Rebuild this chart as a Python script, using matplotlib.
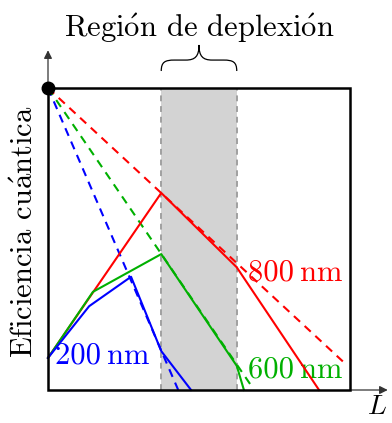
import matplotlib
matplotlib.use('Agg')
from matplotlib import pyplot as plt
from matplotlib.path import Path
from matplotlib.patches import PathPatch, Rectangle
import numpy as np

plt.rcParams['font.family'] = ['cmr10', 'DejaVu Serif']
plt.rcParams['mathtext.fontset'] = 'cm'
plt.rcParams['axes.formatter.use_mathtext'] = True

# depletion region (x range) and box size
depletion = (3.0, 5.0)
box = 8.0

# solid curves: quantum efficiency vs L
blue_x = [0.0, 1.09, 2.2, 3.0, 3.79]
blue_y = [0.85, 2.22, 3.0, 1.03, 0.0]
green_x = [0.0, 1.19, 3.0, 5.0, 5.19]
green_y = [0.85, 2.6, 3.6, 0.64, 0.0]
red_x = [0.0, 3.0, 5.0, 7.18]
red_y = [0.85, 5.22, 3.25, 0.0]

# dashed reference lines from the top-left corner
blue_dash_x = [0.0, 3.45]
blue_dash_y = [8.0, 0.0]
green_dash_x = [0.0, 5.38]
green_dash_y = [8.0, 0.12]
red_dash_x = [0.0, 7.85]
red_dash_y = [8.0, 0.72]

labels = ['200\u2009nm', '600\u2009nm', '800\u2009nm']
title = r'Regi$\acute{\mathrm{o}}$n de deplexi$\acute{\mathrm{o}}$n'
ylabel = r'Eficiencia cu$\acute{\mathrm{a}}$ntica'
c_blue, c_green, c_red = '#0000ff', '#00b000', '#ff0000'

fig = plt.figure(figsize=(3.92, 4.23), dpi=100)
ax = fig.add_axes([0, 0, 1, 1])
u = 37.75
ax.set_xlim(-48 / u, 344 / u)
ax.set_ylim(-33 / u, 390 / u)
ax.axis('off')

# shaded depletion region
ax.add_patch(Rectangle((depletion[0], 0), depletion[1] - depletion[0], box,
                       facecolor='#d3d3d3', edgecolor='none', zorder=1))
for xv in depletion:
    ax.plot([xv, xv], [0, box], color='#a0a0a0', lw=1.4,
            linestyle=(0, (3, 2.5)), zorder=2)

dash = (0, (4, 3))
ax.plot(blue_dash_x, blue_dash_y, color=c_blue, lw=1.5, linestyle=dash, zorder=3)
ax.plot(green_dash_x, green_dash_y, color=c_green, lw=1.5, linestyle=dash, zorder=3)
ax.plot(red_dash_x, red_dash_y, color=c_red, lw=1.5, linestyle=dash, zorder=3)

ax.plot(red_x, red_y, color=c_red, lw=1.5, zorder=4)
ax.plot(green_x, green_y, color=c_green, lw=1.5, zorder=4)
ax.plot(blue_x, blue_y, color=c_blue, lw=1.5, zorder=4)

# box
ax.add_patch(Rectangle((0, 0), box, box, facecolor='none', edgecolor='black',
                       lw=1.8, zorder=5))

# axes arrows
ax.annotate('', xy=(0, 9.0), xytext=(0, box),
            arrowprops=dict(arrowstyle='-|>', color='#333333', lw=0.9,
                            mutation_scale=12, shrinkA=0, shrinkB=0))
ax.annotate('', xy=(9.0, 0), xytext=(box, 0),
            arrowprops=dict(arrowstyle='-|>', color='#333333', lw=0.9,
                            mutation_scale=12, shrinkA=0, shrinkB=0))
ax.plot([0], [box], 'o', color='black', ms=9, zorder=6)

# brace over depletion region
x0, x1 = depletion
xm = (x0 + x1) / 2
yb, yh, yt = 8.45, 8.74, 9.14
verts = [(x0, yb), (x0, yh - 0.05), (x0 + 0.1, yh), (x0 + 0.35, yh),
         (xm - 0.35, yh), (xm - 0.1, yh), (xm, yh + 0.1), (xm, yt),
         (xm, yh + 0.1), (xm + 0.1, yh), (xm + 0.35, yh),
         (x1 - 0.35, yh), (x1 - 0.1, yh), (x1, yh - 0.05), (x1, yb)]
codes = [Path.MOVETO, Path.CURVE4, Path.CURVE4, Path.CURVE4,
         Path.LINETO, Path.CURVE4, Path.CURVE4, Path.CURVE4,
         Path.CURVE4, Path.CURVE4, Path.CURVE4,
         Path.LINETO, Path.CURVE4, Path.CURVE4, Path.CURVE4]
ax.add_patch(PathPatch(Path(verts, codes), facecolor='none', edgecolor='black',
                       lw=0.9, zorder=5))

fs = 22
ax.text(xm, 9.35, title, fontsize=fs, ha='center', va='baseline')
ax.text(-0.61, 4.19, ylabel, fontsize=fs, rotation=90,
        ha='center', va='center')
ax.text(0.185, 0.715, labels[0], fontsize=fs, color=c_blue, ha='left', va='baseline')
ax.text(5.3, 0.32, labels[1], fontsize=fs, color=c_green, ha='left', va='baseline')
ax.text(5.3, 2.89, labels[2], fontsize=fs, color=c_red, ha='left', va='baseline')
ax.text(8.98, -0.8, '$L$', fontsize=20, ha='right', va='bottom')

fig.savefig('out.png', dpi=100)
